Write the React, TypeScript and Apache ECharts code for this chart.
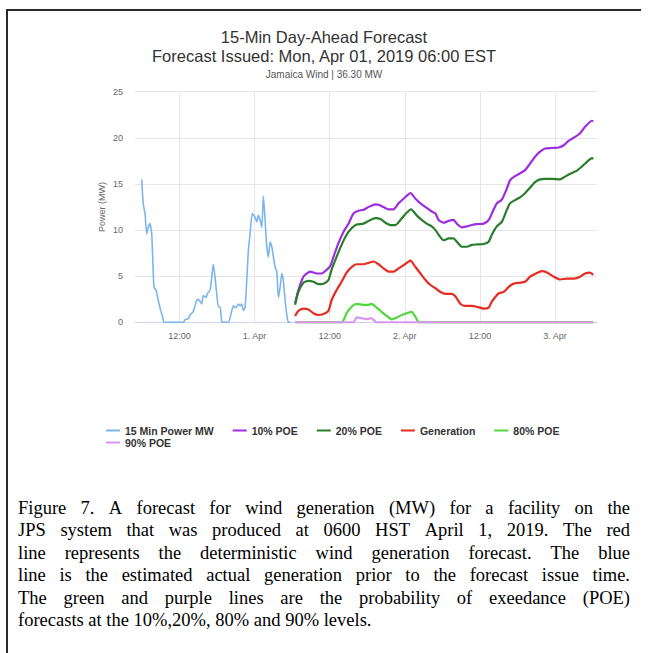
import React, { useEffect, useRef } from "react";
import * as echarts from "echarts";

// x values are hours relative to 1 Apr 2019 00:00
const titleLines = ["15-Min Day-Ahead Forecast", "Forecast Issued: Mon, Apr 01, 2019 06:00 EST"];
const subtitle = "Jamaica Wind | 36.30 MW";
const yAxisName = "Power (MW)";
const yTicks = [0, 5, 10, 15, 20, 25];
const xTickHours = [-12, 0, 12, 24, 36, 48];
const xTickLabels = ["12:00", "1. Apr", "12:00", "2. Apr", "12:00", "3. Apr"];
const xRange = [-19.1, 54.7];

const seriesNames = ["15 Min Power MW", "10% POE", "20% POE", "Generation", "80% POE", "90% POE"];

const powerTimes = [-18.03, -17.78, -17.5, -17.23, -16.98, -16.71, -16.43, -16.07, -15.75, -15.38, -15.0, -14.68, -14.42, -11.38, -11.11, -10.58, -10.31, -9.78, -9.24, -8.98, -8.44, -8.19, -7.75, -7.55, -7.11, -6.84, -6.59, -6.32, -6.04, -5.79, -5.52, -5.24, -4.99, -4.19, -3.8, -3.39, -2.96, -2.59, -2.32, -2.05, -1.79, -1.52, -1.25, -0.99, -0.72, -0.35, 0.08, 0.35, 0.61, 0.88, 1.15, 1.41, 1.68, 1.95, 2.21, 2.48, 2.75, 3.01, 3.28, 3.55, 3.8, 4.08, 4.35, 4.6, 4.88, 5.15, 5.4, 5.75];
const powerValues = [15.5, 12.8, 11.8, 9.6, 10.3, 10.7, 9.6, 3.8, 3.5, 2.4, 1.3, 0.6, 0, 0, 0.3, 0.4, 0.8, 1.2, 2.4, 2.5, 2.0, 2.9, 2.7, 3.1, 3.5, 4.9, 6.3, 4.9, 3.1, 1.7, 1.7, 0.1, 0, 0, 0.8, 1.8, 1.6, 2.0, 1.8, 2.0, 1.3, 1.6, 4.5, 7.8, 9.6, 11.8, 11.4, 10.9, 11.6, 11.1, 10.3, 13.7, 11.1, 8.2, 7.1, 8.7, 8.2, 7.1, 6.0, 5.5, 2.7, 3.8, 5.3, 4.5, 2.4, 0.8, 0, 0];

const poe10Times = [6.47, 7.0, 7.8, 8.9, 9.4, 9.9, 10.7, 11.5, 12.1, 12.6, 13.4, 14.2, 15.0, 15.8, 16.6, 17.4, 18.2, 19.3, 19.8, 20.6, 21.4, 22.2, 23.0, 23.8, 24.9, 25.7, 26.5, 27.3, 28.1, 28.9, 29.4, 30.2, 31.0, 31.8, 32.3, 33.1, 33.9, 34.7, 35.5, 36.6, 37.4, 37.9, 38.7, 39.5, 40.3, 40.8, 41.6, 42.4, 43.2, 44.0, 44.8, 45.6, 46.4, 47.5, 48.6, 49.4, 50.2, 51.2, 52.0, 52.8, 53.9, 54.1];
const poe10Values = [2.07, 3.5, 4.95, 5.5, 5.4, 5.3, 5.3, 5.7, 6.1, 7.1, 8.6, 9.8, 10.7, 11.8, 12.1, 12.2, 12.5, 12.8, 12.75, 12.5, 12.25, 12.25, 12.9, 13.4, 14.0, 13.4, 12.9, 12.5, 12.1, 11.8, 11.1, 10.8, 11.0, 11.1, 10.7, 10.3, 10.4, 10.55, 10.65, 10.7, 11.1, 11.8, 12.9, 13.3, 14.5, 15.4, 15.85, 16.15, 16.5, 17.2, 17.95, 18.5, 18.85, 18.9, 18.95, 19.2, 19.7, 20.1, 20.5, 21.2, 21.85, 21.8];

const poe20Times = [6.47, 7.0, 7.8, 8.6, 9.4, 10.2, 11.0, 11.8, 12.3, 13.1, 13.9, 14.7, 15.5, 16.3, 17.4, 18.2, 19.3, 20.1, 20.9, 21.7, 22.5, 23.3, 24.1, 25.0, 25.9, 26.7, 27.5, 28.3, 28.9, 29.4, 30.2, 31.0, 31.8, 32.3, 33.1, 33.9, 34.7, 35.5, 36.6, 37.4, 37.9, 38.7, 39.5, 40.3, 40.8, 41.6, 42.4, 43.2, 44.0, 44.8, 45.6, 46.4, 47.5, 48.8, 49.6, 50.4, 51.5, 52.3, 53.1, 53.9, 54.1];
const poe20Values = [1.9, 3.3, 4.3, 4.5, 4.4, 4.15, 4.2, 4.6, 5.7, 7.1, 8.4, 9.5, 10.2, 10.6, 10.7, 11.0, 11.3, 11.2, 10.8, 10.55, 10.55, 11.1, 11.75, 12.25, 11.6, 11.1, 10.7, 10.4, 10.0, 9.5, 8.9, 9.1, 9.1, 8.75, 8.2, 8.2, 8.4, 8.45, 8.5, 8.75, 9.5, 10.4, 10.9, 12.2, 12.9, 13.25, 13.55, 14.0, 14.6, 15.2, 15.5, 15.55, 15.55, 15.5, 15.8, 16.1, 16.45, 16.9, 17.4, 17.8, 17.7];

const genTimes = [6.47, 7.0, 7.8, 8.6, 9.4, 10.2, 11.0, 11.8, 12.3, 13.1, 13.9, 14.7, 15.5, 16.3, 17.4, 18.2, 19.0, 19.8, 20.6, 21.4, 22.2, 23.0, 23.8, 24.9, 25.7, 26.5, 27.3, 28.1, 28.9, 29.7, 30.5, 31.5, 32.1, 32.9, 33.6, 34.7, 35.5, 36.6, 37.4, 37.9, 39.0, 39.8, 40.6, 41.4, 42.4, 43.2, 44.0, 44.8, 45.9, 46.7, 47.8, 48.8, 49.9, 51.0, 52.0, 52.8, 53.6, 54.1];
const genValues = [0.7, 1.25, 1.5, 1.4, 1.0, 0.8, 0.9, 1.25, 2.4, 3.5, 4.4, 5.4, 6.0, 6.3, 6.3, 6.45, 6.6, 6.3, 5.85, 5.5, 5.5, 5.85, 6.2, 6.7, 6.0, 5.3, 4.6, 4.05, 3.7, 3.3, 3.1, 3.1, 2.8, 2.0, 1.8, 1.8, 1.7, 1.5, 1.6, 2.25, 3.15, 3.3, 3.85, 4.2, 4.3, 4.4, 4.95, 5.25, 5.55, 5.4, 4.95, 4.65, 4.75, 4.75, 4.95, 5.3, 5.4, 5.15];

const poe80Times = [6.47, 13.9, 14.7, 15.5, 16.3, 17.4, 18.2, 18.7, 19.5, 20.3, 21.1, 21.9, 22.8, 23.5, 24.3, 25.1, 25.7, 26.3, 54.1];
const poe80Values = [0, 0, 1.0, 1.7, 2.0, 1.9, 1.9, 2.0, 1.6, 1.15, 0.7, 0.33, 0.55, 0.8, 1.0, 1.15, 0.6, 0, 0];

const poe90Times = [6.47, 15.8, 16.3, 17.1, 17.9, 18.7, 19.5, 54.1];
const poe90Values = [0, 0, 0.55, 0.45, 0.35, 0.45, 0, 0];

const captionLines = [
  "Figure 7. A forecast for wind generation (MW) for a facility on the",
  "JPS system that was produced at 0600 HST April 1, 2019.  The red",
  "line represents the deterministic wind generation forecast. The blue",
  "line is the estimated actual generation prior to the forecast issue time.",
  "The green and purple lines are the probability of exeedance (POE)",
  "forecasts at the 10%,20%, 80% and 90% levels.",
];

const COLORS = ["#7cb5ec", "#9d2de0", "#2a7d2a", "#e52b22", "#4fd83c", "#d995f0"];

function toData(times: number[], values: number[]) {
  return times.map((t, i) => [t, values[i]]);
}

function captionGraphics() {
  const fontSize = 18.5;
  const fontFamily = "'Liberation Serif', 'Times New Roman', serif";
  const ctx = document.createElement("canvas").getContext("2d")!;
  ctx.font = `${fontSize}px ${fontFamily}`;
  const left = 18;
  const right = 630;
  const top = 508;
  const step = 22.4;
  const els: any[] = [];
  captionLines.forEach((line, li) => {
    const y = top + li * step;
    const words = line.split(/\s+/);
    const last = li === captionLines.length - 1;
    const widths = words.map((w) => ctx.measureText(w).width);
    const total = widths.reduce((a, b) => a + b, 0);
    const gap = last ? ctx.measureText(" ").width : (right - left - total) / (words.length - 1);
    let x = left;
    words.forEach((w, wi) => {
      els.push({
        type: "text",
        x,
        y,
        style: { text: w, fontSize, fontFamily, fill: "#000", textVerticalAlign: "middle", textAlign: "left" },
      });
      x += widths[wi] + gap;
    });
  });
  return els;
}

export default function App() {
  const ref = useRef<HTMLDivElement>(null);
  useEffect(() => {
    if (!ref.current) return;
    const chart = echarts.init(ref.current, null, { renderer: "svg" });
    const seriesData = [
      toData(powerTimes, powerValues),
      toData(poe10Times, poe10Values),
      toData(poe20Times, poe20Values),
      toData(genTimes, genValues),
      toData(poe80Times, poe80Values),
      toData(poe90Times, poe90Values),
    ];
    const font = "'Liberation Sans', Arial, sans-serif";
    const legendText = { color: "#333", fontSize: 10.5, fontWeight: "bold" as const, fontFamily: font };
    const option: any = {
      animation: false,
      backgroundColor: "#fff",
      textStyle: { fontFamily: font },
      title: [
        {
          text: titleLines.join("\n"),
          left: 324,
          top: 27,
          textAlign: "center",
          padding: 0,
          textStyle: { fontSize: 16.5, lineHeight: 19.5, color: "#333", fontWeight: "normal", fontFamily: font, align: "center" },
        },
        {
          text: subtitle,
          left: 324,
          top: 69,
          textAlign: "center",
          padding: 0,
          textStyle: { fontSize: 10, color: "#555", fontWeight: "normal", fontFamily: font },
        },
      ],
      grid: { left: 135, right: 51, top: 91.7, bottom: 330.6 },
      xAxis: {
        type: "value",
        min: xRange[0],
        max: xRange[1],
        axisLine: { show: true, onZero: false, lineStyle: { color: "#ccd6eb", width: 1 } },
        axisTick: { show: false, customValues: xTickHours },
        splitLine: { show: true, lineStyle: { color: "#e6e6e6", width: 1 } },
        axisLabel: {
          customValues: xTickHours,
          color: "#666",
          fontSize: 9,
          margin: 9,
          formatter: (val: number) => {
            const idx = xTickHours.indexOf(Math.round(val));
            return idx >= 0 ? xTickLabels[idx] : "";
          },
        },
      },
      yAxis: {
        type: "value",
        min: yTicks[0],
        max: yTicks[yTicks.length - 1],
        interval: 5,
        name: yAxisName,
        nameLocation: "middle",
        nameGap: 29,
        nameMoveOverlap: false,
        nameTextStyle: { color: "#666", fontSize: 9 },
        axisLine: { show: false },
        axisTick: { show: false },
        axisLabel: { color: "#666", fontSize: 9, margin: 12 },
        splitLine: { lineStyle: { color: "#e6e6e6", width: 1 } },
      },
      legend: [
        {
          data: seriesNames.slice(0, 5),
          left: 106,
          top: 425,
          padding: 0,
          icon: "rect",
          itemWidth: 14,
          itemHeight: 2,
          itemGap: 19,
          textStyle: legendText,
        },
        {
          data: seriesNames.slice(5),
          left: 106,
          top: 437,
          padding: 0,
          icon: "rect",
          itemWidth: 14,
          itemHeight: 2,
          itemGap: 19,
          textStyle: legendText,
        },
      ],
      series: seriesNames.map((name, i) => ({
        name,
        type: "line",
        data: seriesData[i],
        showSymbol: false,
        symbol: "none",
        smooth: 0.2,
        lineStyle: { color: COLORS[i], width: i === 0 ? 1.6 : 2.2 },
        itemStyle: { color: COLORS[i] },
        z: 2 + i,
      })),
      graphic: [
        { type: "line", shape: { x1: 6, y1: 10, x2: 641, y2: 10 }, style: { stroke: "#2a2a2a", lineWidth: 2 } },
        { type: "line", shape: { x1: 7, y1: 9, x2: 7, y2: 653 }, style: { stroke: "#2a2a2a", lineWidth: 2 } },
        ...captionGraphics(),
      ],
    };
    chart.setOption(option);
    return () => chart.dispose();
  }, []);
  return (
    <div
      ref={ref}
      style={{ position: "fixed", left: 0, top: 0, width: 648, height: 653, background: "#fff" }}
    />
  );
}
